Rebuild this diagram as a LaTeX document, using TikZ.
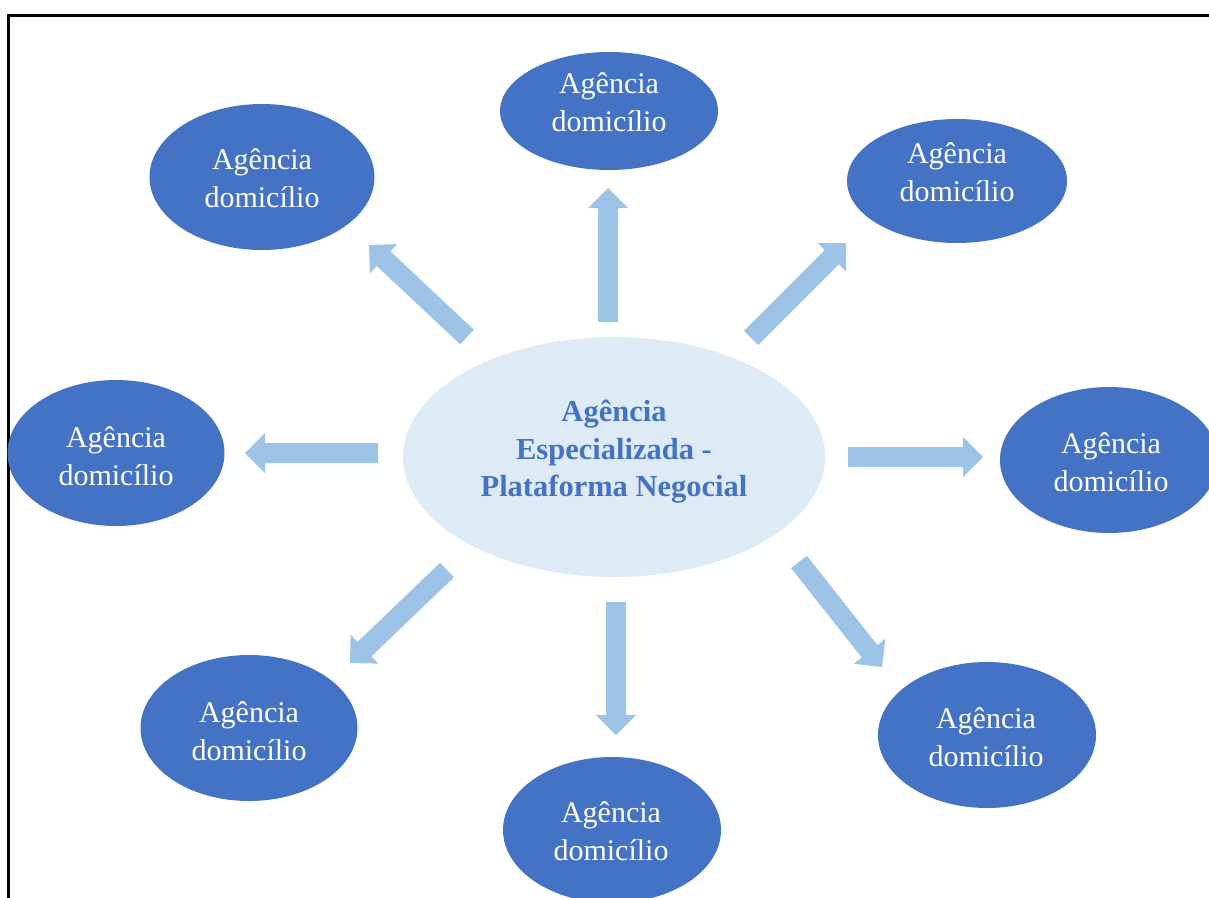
\documentclass[tikz,border=0pt]{standalone}
\usepackage{fontspec}
\setmainfont{Liberation Serif}
\usetikzlibrary{shapes.geometric,calc}

\definecolor{nodeblue}{RGB}{68,114,196}
\definecolor{hubfill}{RGB}{222,235,247}
\definecolor{arrowfill}{RGB}{157,195,230}

\tikzset{
  spoke/.style={ellipse, fill=nodeblue, draw=none, inner sep=0pt},
  spoketext/.style={text=white, align=center, inner sep=0pt,
    font=\fontsize{30}{37.5}\selectfont},
  hub/.style={ellipse, fill=hubfill, draw=none, inner sep=0pt,
    minimum width=422pt, minimum height=240pt},
  hubtext/.style={text=nodeblue, align=center, inner sep=0pt,
    font=\fontsize{30.5}{37.5}\selectfont\bfseries},
  frameline/.style={line width=2.7pt, line join=miter},
}

% block arrow: name, tail point, tip point (shaft 20, head 40 wide, 20 long)
\newcommand{\blockarr}[3]{%
  \coordinate (#1-tail) at (#2);
  \coordinate (#1-tip) at (#3);
  \coordinate (#1-base) at ($(#1-tip)!20pt!(#1-tail)$);
  \fill[arrowfill] ($(#1-tail)!10pt!90:(#1-tip)$)
    -- ($(#1-base)!10pt!90:(#1-tip)$)
    -- ($(#1-base)!20pt!90:(#1-tip)$)
    -- (#1-tip)
    -- ($(#1-base)!20pt!-90:(#1-tip)$)
    -- ($(#1-base)!10pt!-90:(#1-tip)$)
    -- ($(#1-tail)!10pt!-90:(#1-tip)$) -- cycle;
}

\begin{document}
\begin{tikzpicture}[x=1pt,y=-1pt]
  \clip (0,0) rectangle (1209,897);
  \fill[white] (0,0) rectangle (1209,897);

  % outer frame (open to the right and bottom)
  \draw[frameline] (8.7,900) -- (8.7,15.5) -- (1212,15.5);

  % central hub
  \node[hub] (hub) at (614,457) {};
  \node[hubtext] (hubt) at (614,452) {Agência\\Especializada -\\Plataforma Negocial};

  % surrounding branches
  \node[spoke, minimum width=218pt, minimum height=118pt] (n) at (609,111) {};
  \node[spoketext] (nt) at (609,102) {Agência\\domicílio};

  \node[spoke, minimum width=225pt, minimum height=146pt] (nw) at (262,177) {};
  \node[spoketext] (nwt) at (262,178) {Agência\\domicílio};

  \node[spoke, minimum width=220pt, minimum height=124pt] (ne) at (957,181) {};
  \node[spoketext] (net) at (957,172) {Agência\\domicílio};

  \node[spoke, minimum width=217pt, minimum height=146pt] (w) at (116,453) {};
  \node[spoketext] (wt) at (116,456) {Agência\\domicílio};

  \node[spoke, minimum width=218pt, minimum height=146pt] (e) at (1109,460) {};
  \node[spoketext] (et) at (1111,462) {Agência\\domicílio};

  \node[spoke, minimum width=217pt, minimum height=146pt] (sw) at (249,728) {};
  \node[spoketext] (swt) at (249,731) {Agência\\domicílio};

  \node[spoke, minimum width=218pt, minimum height=146pt] (s) at (612,830) {};
  \node[spoketext] (st) at (611,831) {Agência\\domicílio};

  \node[spoke, minimum width=218pt, minimum height=146pt] (se) at (987,735) {};
  \node[spoketext] (set) at (986,737) {Agência\\domicílio};

  % arrows pointing from the hub to each branch
  \blockarr{an}{608,322}{608,188}
  \blockarr{anw}{467,337}{369,245}
  \blockarr{ane}{751,338}{846,243}
  \blockarr{aw}{378,453}{245,453}
  \blockarr{ae}{848,457}{983,457}
  \blockarr{as}{616,602}{616,735}
  \blockarr{asw}{447,570}{350,663}
  \blockarr{ase}{799,562}{882,667}
\end{tikzpicture}
\end{document}
